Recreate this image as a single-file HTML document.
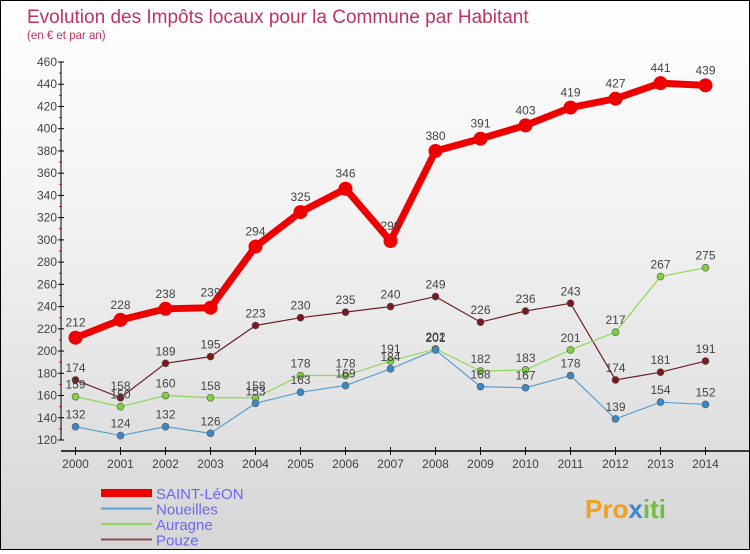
<!DOCTYPE html>
<html><head><meta charset="utf-8"><style>
html,body{margin:0;padding:0}
body{width:750px;height:550px;overflow:hidden;font-family:"Liberation Sans",sans-serif}
#wrap{position:relative;width:748px;height:548px;border:1px solid #000;background:linear-gradient(#fff 0%,#f2f2f2 40%,#d6d6d6 100%)}
</style></head><body>
<div id="wrap">
<svg id="chart" width="748" height="548" font-family="Liberation Sans, sans-serif">
<text x="26" y="22" font-size="19" fill="#c0335f">Evolution des Impôts locaux pour la Commune par Habitant</text>
<text x="26" y="38" font-size="11.5" fill="#c0335f">(en € et par an)</text>
<g id="axes"></g><g id="series"></g><g id="legend"></g>
<text x="584" y="517" font-size="26" font-weight="bold" fill="#f0a020">Pro<tspan fill="#3a8ad0">x</tspan><tspan fill="#70c040">iti</tspan></text>
</svg></div>
<script>
const years=[2000,2001,2002,2003,2004,2005,2006,2007,2008,2009,2010,2011,2012,2013,2014];
const saintLeon=[212,228,238,239,294,325,346,299,380,391,403,419,427,441,439];
const noueilles=[132,124,132,126,153,163,169,184,201,168,167,178,139,154,152];
const auragne=[159,150,160,158,158,178,178,191,202,182,183,201,217,267,275];
const pouze=[174,158,189,195,223,230,235,240,249,226,236,243,174,181,191];
const yTicks=[120,140,160,180,200,220,240,260,280,300,320,340,360,380,400,420,440,460];
const seriesNames=["SAINT-LéON","Noueilles","Auragne","Pouze"];
const NS="http://www.w3.org/2000/svg";
const X=i=>74.5+i*45;
const Y=v=>439-(v-120)*(378/340);
function el(t,a,p){const e=document.createElementNS(NS,t);for(const k in a)e.setAttribute(k,a[k]);p.appendChild(e);return e;}
const axes=document.getElementById('axes'),ser=document.getElementById('series'),leg=document.getElementById('legend');
const ya=el('line',{x1:60,y1:Y(460),x2:60,y2:Y(120),stroke:'#000'},axes);


yTicks.forEach(v=>{
 el('line',{x1:57,x2:63,y1:Y(v),y2:Y(v),stroke:'#000'},axes);
 if(v<460) el('line',{x1:58,x2:61,y1:Y(v+10),y2:Y(v+10),stroke:'#e00'},axes);
 const t=el('text',{x:56,y:Y(v)+4,'font-size':12,'text-anchor':'end',fill:'#444'},axes);t.textContent=v;
 
 
});
const xa=el('line',{x1:60,y1:450,x2:748,y2:450,stroke:'#000','stroke-width':1.5},axes);


years.forEach((y,i)=>{
 el('line',{x1:X(i),x2:X(i),y1:446,y2:454,stroke:'#000'},axes);
 const t=el('text',{x:X(i),y:467,'font-size':12,'text-anchor':'middle',fill:'#444'},axes);t.textContent=y;
 
 
});
const defs=[
 {d:pouze,c:'#6e1f25',w:1.2,r:3.5,f:'#7a1a20',n:'pouze'},
 {d:auragne,c:'#8ed85a',w:1.2,r:3.5,f:'#80d040',n:'auragne'},
 {d:noueilles,c:'#5aa0d0',w:1.2,r:3.5,f:'#3a88c8',n:'noueilles'},
 {d:saintLeon,c:'#ee0000',w:7,r:7,f:'#ee0000',n:'saint-leon'}];
defs.forEach(s=>{
 const g=el('g',{},ser);
 
 
 const p=el('polyline',{points:s.d.map((v,i)=>X(i)+','+Y(v)).join(' '),fill:'none',stroke:s.c,'stroke-width':s.w},g);
 
 
 s.d.forEach((v,i)=>{
  const c=el('circle',{cx:X(i),cy:Y(v),r:s.r,fill:s.f,stroke:'#555','stroke-width':s.w>2?0:0.6},g);
  
  
  const t=el('text',{x:X(i),y:Y(v)-(s.w>2?11:8),'font-size':12,'text-anchor':'middle',fill:'#444'},g);t.textContent=v;
  
  
 });
});
const lc=['#ee0000','#5aa0d0','#8ed85a','#8a5050'],lw=[8,2,2,2];
seriesNames.forEach((n,i)=>{
 const y=492+i*15.5;
 const l=el('line',{x1:100,x2:151,y1:y,y2:y,stroke:lc[i],'stroke-width':lw[i]},leg);
 
 
 const t=el('text',{x:155,y:y+6,'font-size':15,fill:'#6a6aee'},leg);t.textContent=n;
 
 
});
</script>
</body></html>
